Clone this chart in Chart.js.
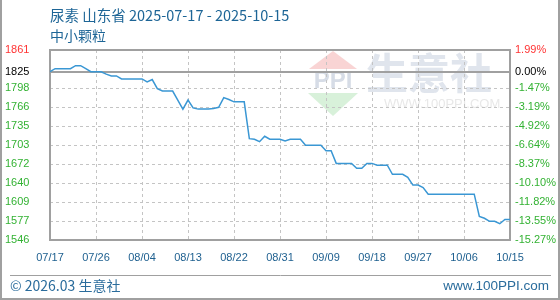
<!DOCTYPE html>
<html>
<head>
<meta charset="utf-8">
<script src="https://cdn.jsdelivr.net/npm/chart.js@4"></script>
<style>
  html, body { margin: 0; padding: 0; background: #fff; }
  #wrap { width: 560px; height: 300px; }
</style>
</head>
<body>
<div id="wrap"><canvas id="chart" width="560" height="300"></canvas></div>
<script>
// chart data
const titleText = '尿素 山东省 2025-07-17 - 2025-10-15';
const subtitleText = '中小颗粒';
const footerLeft = '© 2026.03 生意社';
const footerRight = 'www.100PPI.com';

const startDate = '2025-07-17';
const dayCount = 91;
const xTickLabels = ['07/17', '07/26', '08/04', '08/13', '08/22', '08/31', '09/09', '09/18', '09/27', '10/06', '10/15'];

const prices = [
    1825, 1830, 1830, 1830, 1830, 1835, 1835, 1830, 1825, 1825,
    1825, 1821, 1818, 1818, 1813, 1813, 1813, 1813, 1813, 1808,
    1812, 1797, 1793, 1793, 1793, 1778, 1763, 1778, 1765, 1763,
    1763, 1763, 1764, 1766, 1782, 1779, 1775, 1775, 1775, 1714,
    1713, 1709, 1718, 1713, 1713, 1713, 1710, 1713, 1713, 1713,
    1703, 1703, 1703, 1703, 1694, 1694, 1673, 1673, 1673, 1673,
    1665, 1665, 1673, 1673, 1670, 1670, 1670, 1655, 1655, 1655,
    1650, 1637, 1637, 1633, 1622, 1622, 1622, 1622, 1622, 1622,
    1622, 1622, 1622, 1622, 1585, 1582, 1577, 1577, 1573, 1580,
    1580
];

const baseValue = 1825;
const yMin = 1546;
const yMax = 1861;
const yTickValues = [1546, 1577.5, 1609, 1640.5, 1672, 1703.5, 1735, 1766.5, 1798, 1825, 1861];
const yTickLabels = ['1546', '1577', '1609', '1640', '1672', '1703', '1735', '1766', '1798', '1825', '1861'];
const pctTickLabels = ['-15.27%', '-13.55%', '-11.82%', '-10.10%', '-8.37%', '-6.64%', '-4.92%', '-3.19%', '-1.47%', '0.00%', '1.99%'];

// MM/DD labels for each day
const dates = [];
(function () {
    const d0 = new Date(startDate + 'T00:00:00Z');
    for (let i = 0; i < dayCount; i++) {
        const d = new Date(d0.getTime() + i * 86400000);
        const mm = String(d.getUTCMonth() + 1).padStart(2, '0');
        const dd = String(d.getUTCDate()).padStart(2, '0');
        dates.push(mm + '/' + dd);
    }
})();

const tickFont = { family: 'Liberation Sans, Arial, sans-serif', size: 11 };
const cjkFont = '"Microsoft YaHei", "Noto Sans CJK SC", sans-serif';
const gridColor = '#c4c4c4';

function tickColor(ctx) {
    const v = ctx.tick ? ctx.tick.value : 0;
    if (v > baseValue) return '#ff3333';
    if (v === baseValue) return '#000000';
    return '#33b233';
}

function useFixedTicks(scale) {
    scale.ticks = yTickValues.map(v => ({ value: v }));
}

const decorPlugin = {
    id: 'decor',
    beforeDraw(chart) {
        const ctx = chart.ctx;
        ctx.save();
        ctx.fillStyle = '#ffffff';
        ctx.fillRect(0, 0, chart.width, chart.height);

        // watermark logo
        const cx = 333;
        ctx.fillStyle = '#f9d4d4';
        ctx.beginPath();
        ctx.moveTo(cx, 51); ctx.lineTo(cx + 24, 69); ctx.lineTo(cx - 24, 69);
        ctx.closePath(); ctx.fill();
        ctx.fillStyle = '#d8f1da';
        ctx.beginPath();
        ctx.moveTo(cx - 25, 93); ctx.lineTo(cx + 25, 93); ctx.lineTo(cx, 116);
        ctx.closePath(); ctx.fill();
        ctx.fillStyle = '#d6dce6';
        ctx.font = 'bold 24px "Liberation Sans", sans-serif';
        ctx.textAlign = 'center';
        ctx.textBaseline = 'middle';
        ctx.fillText('PPI', cx, 81);

        ctx.fillStyle = '#e0e5ed';
        ctx.font = 'bold 42px ' + cjkFont;
        ctx.textAlign = 'left';
        ctx.fillText('生意社', 366, 73);
        ctx.fillStyle = '#e8e8e8';
        ctx.font = '13px "Liberation Sans", sans-serif';
        ctx.fillText('WWW.100PPI.COM', 384, 104);
        ctx.restore();
    },
    beforeDatasetsDraw(chart) {
        const ctx = chart.ctx;
        const a = chart.chartArea;
        const y = chart.scales.y;
        ctx.save();
        ctx.strokeStyle = '#a0a0a0';
        ctx.lineWidth = 2;
        ctx.setLineDash([]);
        ctx.strokeRect(a.left, a.top, a.right - a.left, a.bottom - a.top);
        const by = Math.round(y.getPixelForValue(baseValue));
        ctx.beginPath();
        ctx.moveTo(a.left, by);
        ctx.lineTo(a.right, by);
        ctx.stroke();
        ctx.restore();
    },
    afterDraw(chart) {
        const ctx = chart.ctx;
        const a = chart.chartArea;
        ctx.save();
        ctx.textBaseline = 'middle';
        ctx.textAlign = 'left';
        ctx.fillStyle = '#1d6596';
        ctx.font = '14.5px ' + cjkFont;
        ctx.fillText(titleText, a.left, 15);
        ctx.font = '14px ' + cjkFont;
        ctx.fillText(subtitleText, a.left, 36);

        // footer
        ctx.strokeStyle = '#a0a0a0';
        ctx.lineWidth = 1;
        ctx.beginPath();
        ctx.moveTo(10, 275.5);
        ctx.lineTo(551, 275.5);
        ctx.stroke();
        ctx.fillStyle = '#2a6c9c';
        ctx.font = '14px ' + cjkFont;
        ctx.fillText(footerLeft, 10, 286);
        ctx.textAlign = 'right';
        ctx.font = '13.5px "Liberation Sans", sans-serif';
        ctx.fillText(footerRight, 549, 286);

        // outer frame
        ctx.strokeStyle = '#a0a0a0';
        ctx.lineWidth = 2;
        ctx.beginPath();
        ctx.moveTo(1, 0);
        ctx.lineTo(1, chart.height - 1);
        ctx.lineTo(chart.width - 1, chart.height - 1);
        ctx.lineTo(chart.width - 1, 0);
        ctx.stroke();
        ctx.restore();
    }
};

new Chart(document.getElementById('chart'), {
    type: 'line',
    data: {
        labels: dates,
        datasets: [{
            data: prices,
            borderColor: '#3a97d4',
            borderWidth: 1.5,
            pointRadius: 0,
            tension: 0,
            fill: false
        }]
    },
    options: {
        responsive: false,
        animation: false,
        devicePixelRatio: 1,
        layout: { padding: { top: 50, left: 5, right: 0, bottom: 0 } },
        plugins: {
            legend: { display: false },
            tooltip: { enabled: false }
        },
        scales: {
            x: {
                type: 'category',
                offset: false,
                afterBuildTicks(scale) {
                    scale.ticks = scale.ticks.filter(t => xTickLabels.includes(dates[t.value]));
                },
                afterFit(scale) { scale.height = 60; },
                grid: {
                    color: gridColor,
                    lineWidth: 1,
                    drawTicks: false
                },
                border: { display: false, dash: [3, 3] },
                ticks: {
                    autoSkip: false,
                    maxRotation: 0,
                    padding: 11,
                    color: '#1d5f8f',
                    font: tickFont
                }
            },
            y: {
                position: 'left',
                min: yMin,
                max: yMax,
                afterBuildTicks: useFixedTicks,
                afterFit(scale) { scale.width = 45; },
                grid: {
                    color: ctx => (ctx.tick && ctx.tick.value === baseValue) ? 'rgba(0,0,0,0)' : gridColor,
                    lineWidth: 1,
                    drawTicks: false
                },
                border: { display: false, dash: [3, 3] },
                ticks: {
                    crossAlign: 'far',
                    padding: 0,
                    color: tickColor,
                    font: tickFont,
                    callback: (v, i) => yTickLabels[i]
                }
            },
            y2: {
                position: 'right',
                min: yMin,
                max: yMax,
                afterBuildTicks: useFixedTicks,
                afterFit(scale) { scale.width = 50; },
                grid: { display: false, drawTicks: false },
                border: { display: false },
                ticks: {
                    padding: 5,
                    color: tickColor,
                    font: tickFont,
                    callback: (v, i) => pctTickLabels[i]
                }
            }
        }
    },
    plugins: [decorPlugin]
});
</script>
</body>
</html>
